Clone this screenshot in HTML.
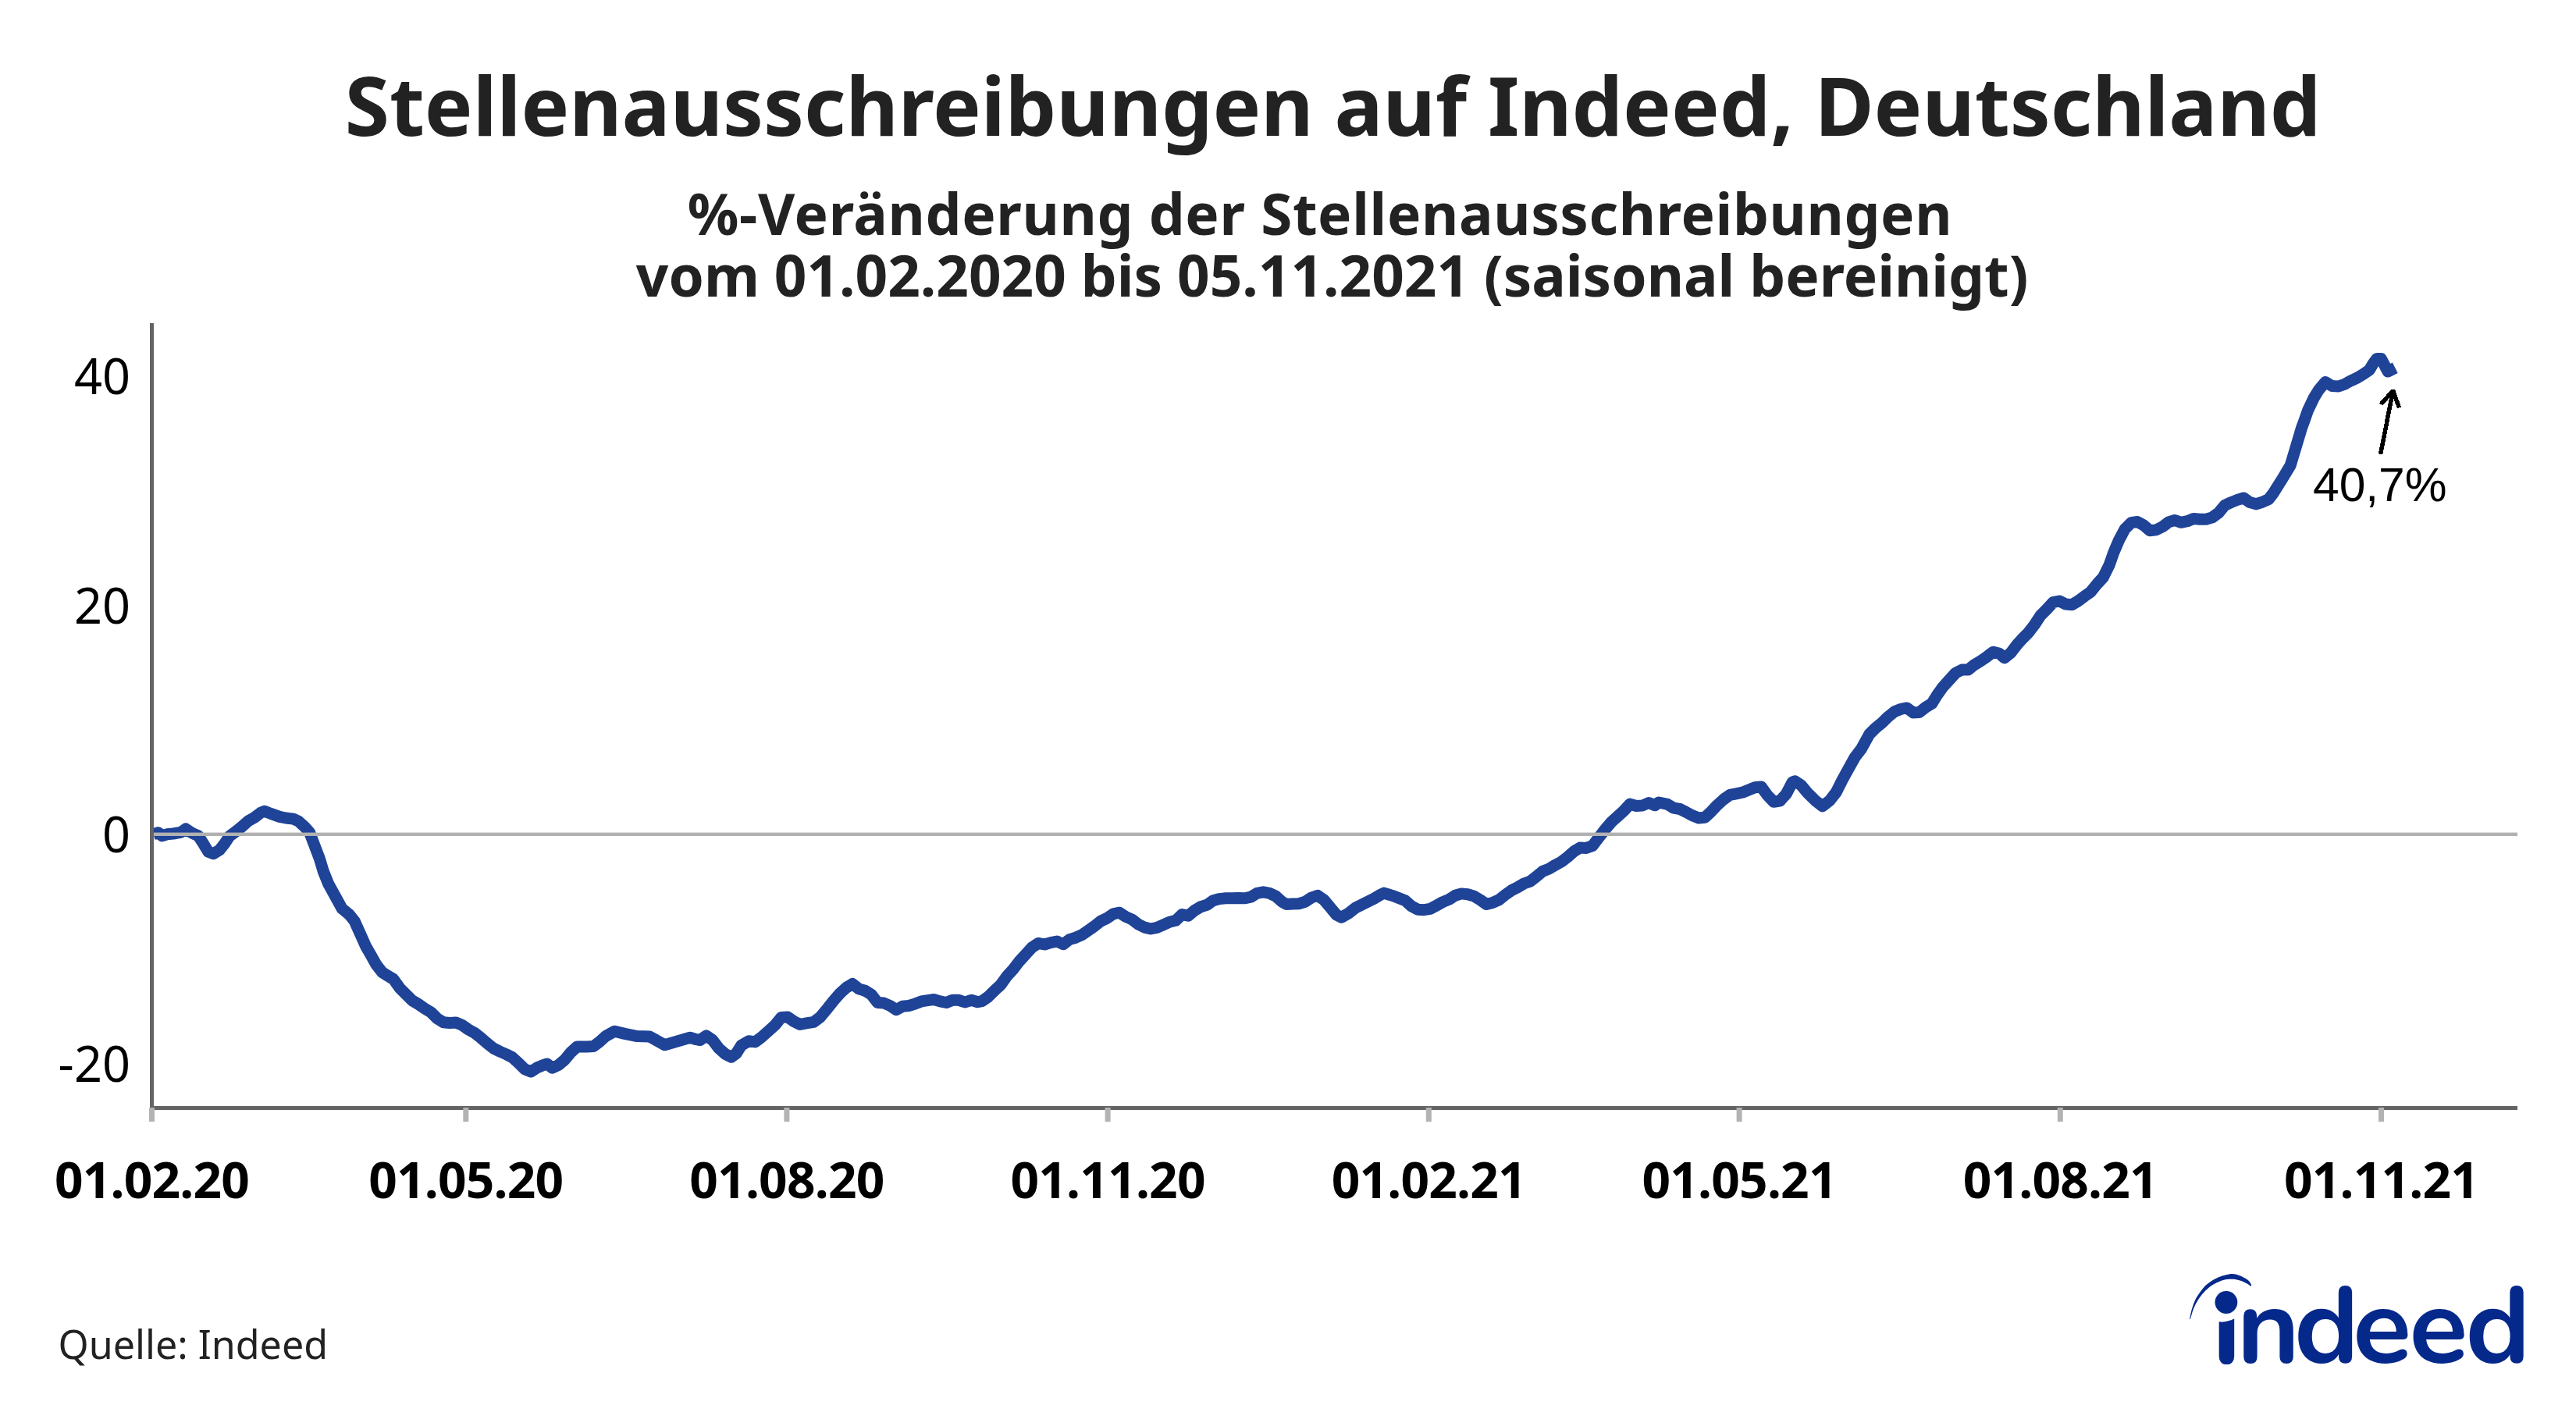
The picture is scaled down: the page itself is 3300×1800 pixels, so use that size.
<!DOCTYPE html>
<html lang="de"><head><meta charset="utf-8"><title>Stellenausschreibungen auf Indeed, Deutschland</title>
<style>
html,body{margin:0;padding:0;background:#fff;}
body{width:3300px;height:1800px;overflow:hidden;position:relative;}
svg{position:absolute;left:0;top:0;display:block;}
.t{font-family:'Noto Sans', 'Liberation Sans', Arial, sans-serif;}
</style></head>
<body>
<svg width="3300" height="1800" viewBox="0 0 3300 1800">
<rect width="3300" height="1800" fill="#fff"/>
<g class="t" fill="#222222" font-weight="700">
<text x="1707.5" y="174" text-anchor="middle" font-size="103.6" textLength="2531.4" lengthAdjust="spacingAndGlyphs">Stellenausschreibungen auf Indeed, Deutschland</text>
<text x="1691" y="301" text-anchor="middle" font-size="72.8" letter-spacing="0.64" textLength="1620.4" lengthAdjust="spacingAndGlyphs">%-Veränderung der Stellenausschreibungen</text>
<text x="1706.6" y="380" text-anchor="middle" font-size="72.8" textLength="1783.5" lengthAdjust="spacingAndGlyphs">vom 01.02.2020 bis 05.11.2021 (saisonal bereinigt)</text>
</g>
<!-- series -->
<polyline points="196.5,1068.5 202.8,1066.8 207.6,1070.9 214.0,1068.8 222.0,1068.0 231.6,1066.4 238.0,1062.0 246.0,1067.2 254.1,1070.9 260.5,1080.8 266.9,1091.3 273.3,1093.7 281.3,1088.9 287.7,1080.8 294.1,1071.2 302.1,1065.3 310.1,1058.9 318.1,1051.7 326.1,1047.2 334.1,1041.1 338.9,1039.2 346.9,1042.4 358.1,1046.4 366.1,1048.0 375.7,1049.1 382.2,1052.0 390.2,1059.2 396.6,1066.4 403.3,1084.1 409.4,1100.1 414.2,1116.1 420.6,1132.1 429.4,1148.1 438.2,1164.1 447.8,1172.1 454.2,1180.1 461.4,1196.1 468.6,1212.2 475.0,1223.4 482.2,1236.2 489.6,1245.7 496.0,1249.7 504.0,1254.5 512.0,1265.7 520.0,1273.7 528.0,1281.7 536.0,1286.5 544.1,1292.1 552.1,1296.9 560.1,1304.9 568.1,1309.7 576.1,1310.5 584.1,1310.0 592.1,1313.4 600.1,1319.0 608.1,1323.3 616.1,1329.7 624.1,1336.6 632.1,1343.0 640.1,1347.0 648.1,1350.5 656.1,1354.5 664.1,1361.7 672.2,1369.8 680.2,1373.0 688.2,1367.7 696.2,1364.5 701.0,1363.0 707.4,1368.2 715.4,1364.5 723.4,1357.7 731.4,1348.1 739.4,1340.9 752.2,1340.9 760.2,1340.6 768.2,1334.5 776.2,1327.3 787.4,1321.2 800.3,1324.4 816.3,1327.6 832.3,1328.1 840.3,1332.4 851.5,1338.8 864.3,1335.0 884.0,1329.3 892.0,1331.7 896.8,1332.5 904.8,1326.9 912.8,1332.5 920.8,1343.0 928.9,1350.2 936.9,1354.2 943.3,1349.4 949.7,1339.3 959.3,1333.8 967.3,1334.9 975.3,1329.0 984.9,1320.5 992.9,1313.3 1000.9,1303.4 1008.9,1302.9 1016.9,1308.5 1024.9,1312.5 1032.9,1310.9 1042.5,1309.3 1050.6,1303.2 1060.2,1291.7 1068.2,1281.6 1076.2,1272.5 1084.2,1265.3 1092.2,1260.5 1100.2,1266.9 1108.2,1269.3 1116.2,1274.1 1124.2,1284.5 1132.2,1285.0 1140.2,1288.5 1148.2,1293.6 1156.2,1289.3 1164.2,1288.5 1172.2,1286.1 1180.3,1282.9 1188.3,1281.6 1196.3,1280.5 1204.3,1282.9 1212.3,1284.5 1220.3,1281.3 1228.3,1281.3 1236.3,1284.0 1244.3,1281.3 1252.3,1283.7 1258.0,1282.6 1266.0,1277.0 1274.0,1269.0 1282.0,1261.7 1290.0,1250.5 1298.0,1241.7 1306.0,1231.3 1314.1,1222.5 1322.1,1213.7 1330.1,1208.4 1338.1,1210.0 1346.1,1207.6 1354.1,1206.0 1362.1,1209.7 1370.1,1203.6 1378.1,1201.2 1386.1,1197.7 1394.1,1192.1 1402.1,1186.5 1410.1,1180.1 1418.1,1176.4 1426.1,1170.8 1434.1,1169.2 1442.2,1174.5 1450.2,1178.0 1458.2,1184.1 1466.2,1188.1 1474.2,1190.0 1482.2,1188.4 1490.2,1184.9 1498.2,1181.2 1506.2,1179.3 1514.2,1171.6 1522.2,1173.2 1530.2,1166.5 1538.2,1161.7 1546.2,1159.3 1554.2,1153.7 1562.2,1151.6 1570.3,1150.8 1578.3,1150.8 1586.3,1150.5 1594.3,1150.8 1602.3,1149.2 1610.3,1144.4 1618.3,1142.8 1626.3,1144.4 1634.3,1148.1 1642.3,1155.3 1648.0,1158.5 1656.0,1158.0 1664.0,1157.7 1672.0,1155.3 1680.0,1150.0 1688.0,1147.3 1696.0,1152.9 1704.1,1162.5 1712.1,1172.1 1718.5,1175.3 1728.1,1169.7 1736.1,1163.3 1744.1,1159.3 1752.1,1155.3 1760.1,1151.3 1768.1,1146.5 1772.9,1144.1 1784.1,1147.6 1800.1,1153.7 1808.1,1160.9 1816.1,1165.2 1824.1,1165.7 1832.2,1164.4 1840.2,1160.1 1848.2,1155.6 1856.2,1152.4 1864.2,1147.3 1872.2,1144.9 1880.2,1145.7 1888.2,1148.1 1896.2,1152.9 1904.2,1158.5 1912.2,1156.4 1920.2,1152.9 1928.2,1146.5 1936.2,1140.8 1944.2,1136.8 1952.2,1132.0 1960.3,1129.2 1968.3,1122.8 1976.3,1116.3 1984.3,1113.1 1992.3,1108.3 2000.3,1104.0 2008.3,1097.9 2016.3,1090.7 2024.0,1086.1 2032.0,1086.4 2040.0,1083.7 2048.0,1073.3 2056.0,1062.9 2064.1,1053.3 2072.1,1046.1 2080.1,1038.9 2088.1,1030.1 2096.1,1032.5 2104.1,1032.0 2112.1,1028.5 2120.1,1031.7 2124.9,1028.0 2136.1,1030.4 2144.1,1035.2 2152.1,1036.5 2160.1,1040.5 2168.1,1044.8 2176.1,1048.0 2184.1,1047.2 2192.2,1039.7 2200.2,1031.2 2208.2,1024.0 2216.2,1018.4 2224.2,1016.8 2232.2,1015.2 2240.2,1012.0 2248.2,1008.8 2256.2,1008.0 2264.2,1018.9 2272.2,1027.2 2280.2,1026.1 2288.2,1017.3 2296.2,1002.0 2299.4,1000.8 2307.4,1006.0 2315.5,1015.7 2325.1,1025.3 2334.7,1032.8 2344.3,1025.3 2352.3,1014.9 2360.3,998.8 2368.3,984.4 2376.3,970.0 2384.3,959.6 2394.8,940.6 2402.8,932.6 2410.8,926.2 2418.9,918.2 2426.9,911.7 2434.9,908.5 2442.9,906.9 2450.9,912.9 2458.9,912.5 2466.9,906.1 2474.9,901.3 2481.3,890.9 2489.3,879.7 2497.3,870.9 2505.3,862.1 2513.3,858.1 2521.3,858.1 2529.3,851.7 2537.3,846.9 2545.4,841.3 2553.4,835.2 2561.4,837.3 2567.8,842.9 2575.8,836.5 2583.8,826.1 2590.2,818.9 2598.2,810.9 2606.2,800.5 2614.2,788.4 2622.2,780.4 2630.2,771.6 2638.2,770.0 2646.2,774.0 2654.2,774.8 2662.2,770.0 2670.3,763.9 2678.3,758.3 2686.3,748.4 2694.3,739.6 2702.0,724.2 2707.6,708.2 2714.4,692.2 2722.1,677.7 2730.1,669.7 2738.1,668.5 2746.1,672.9 2754.1,679.7 2762.1,678.9 2770.1,674.9 2778.1,668.9 2786.1,666.5 2794.1,669.3 2802.1,667.7 2810.1,664.5 2818.1,665.3 2826.1,665.3 2834.1,662.9 2842.2,656.9 2850.2,647.3 2858.2,643.6 2866.2,640.4 2874.2,638.0 2882.2,643.6 2890.2,645.7 2898.2,643.3 2906.2,639.6 2912.6,631.3 2924.6,612.1 2934.2,596.1 2939.0,580.1 2943.8,564.1 2948.6,548.0 2951.0,541.6 2956.6,525.7 2964.2,509.7 2970.1,500.1 2978.9,489.4 2987.7,494.6 2995.7,495.0 3003.6,492.2 3011.6,487.8 3019.6,484.2 3027.5,479.4 3035.5,473.8 3040.3,465.5 3045.0,459.4 3050.3,459.4 3059.0,476.0 3068.3,471.3" fill="none" stroke="#1f4397" stroke-width="15" stroke-linejoin="round" stroke-linecap="butt"/>
<!-- zero line -->
<rect x="197" y="1066.6" width="3028" height="4.4" fill="#b1b1b1"/>
<!-- axes -->
<rect x="192" y="414" width="5" height="1008" fill="#646464"/>
<rect x="192" y="1417" width="3033" height="5" fill="#646464"/>
<rect x="191.0" y="1419" width="7" height="18" fill="#b3b3b3"/><rect x="593.3" y="1419" width="7" height="18" fill="#b3b3b3"/><rect x="1004.4" y="1419" width="7" height="18" fill="#b3b3b3"/><rect x="1415.6" y="1419" width="7" height="18" fill="#b3b3b3"/><rect x="1826.8" y="1419" width="7" height="18" fill="#b3b3b3"/><rect x="2224.6" y="1419" width="7" height="18" fill="#b3b3b3"/><rect x="2635.8" y="1419" width="7" height="18" fill="#b3b3b3"/><rect x="3047.0" y="1419" width="7" height="18" fill="#b3b3b3"/>
<!-- y labels -->
<g class="t" fill="#000" font-size="63" text-anchor="end">
<text x="167" y="505" textLength="72.1" lengthAdjust="spacingAndGlyphs">40</text>
<text x="167" y="799" textLength="72.1" lengthAdjust="spacingAndGlyphs">20</text>
<text x="167" y="1092" textLength="36.0" lengthAdjust="spacingAndGlyphs">0</text>
<text x="167" y="1386" textLength="92.4" lengthAdjust="spacingAndGlyphs">-20</text>
</g>
<!-- x labels -->
<g class="t" fill="#000" font-size="64" font-weight="700" letter-spacing="-0.8">
<text x="194.5" y="1535" text-anchor="middle" textLength="249.2" lengthAdjust="spacingAndGlyphs">01.02.20</text><text x="596.8" y="1535" text-anchor="middle" textLength="249.2" lengthAdjust="spacingAndGlyphs">01.05.20</text><text x="1007.9" y="1535" text-anchor="middle" textLength="249.2" lengthAdjust="spacingAndGlyphs">01.08.20</text><text x="1419.1" y="1535" text-anchor="middle" textLength="249.2" lengthAdjust="spacingAndGlyphs">01.11.20</text><text x="1830.3" y="1535" text-anchor="middle" textLength="249.2" lengthAdjust="spacingAndGlyphs">01.02.21</text><text x="2228.1" y="1535" text-anchor="middle" textLength="249.2" lengthAdjust="spacingAndGlyphs">01.05.21</text><text x="2639.3" y="1535" text-anchor="middle" textLength="249.2" lengthAdjust="spacingAndGlyphs">01.08.21</text><text x="3050.5" y="1535" text-anchor="middle" textLength="249.2" lengthAdjust="spacingAndGlyphs">01.11.21</text>
</g>
<!-- annotation -->
<g stroke="#000" stroke-width="5.5" fill="none" stroke-linecap="butt" shape-rendering="crispEdges">
<line x1="3049.6" y1="581.8" x2="3065.6" y2="500.5"/>
<polyline points="3050,518 3065.6,500.5 3073.5,522.3" stroke-linejoin="bevel"/>
</g>
<text x="2963" y="641.5" font-family="'Liberation Sans', Arial, sans-serif" font-size="60.5" fill="#000">40,7%</text>
<!-- source -->
<text class="t" x="74.5" y="1741" font-size="50.2" fill="#222222" textLength="345.6" lengthAdjust="spacingAndGlyphs">Quelle: Indeed</text>
<!-- logo -->
<defs><clipPath id="ci"><path d="M2800 1800 L2800 1693.3 L2842 1693.3 C2849 1694.6 2856 1692.2 2868 1687.5 L2868 1600 L3300 1600 L3300 1800 Z"/></clipPath></defs>
<g fill="#05298b">
<path d="M2805.10 1689.90 C2805.40 1688.40 2805.98 1684.33 2806.90 1680.90 C2807.82 1677.47 2809.20 1672.77 2810.60 1669.30 C2812.00 1665.83 2813.22 1663.42 2815.30 1660.10 C2817.38 1656.78 2820.25 1652.48 2823.10 1649.40 C2825.95 1646.32 2829.32 1643.75 2832.40 1641.60 C2835.48 1639.45 2838.52 1637.85 2841.60 1636.50 C2844.68 1635.15 2847.83 1634.23 2850.90 1633.50 C2853.97 1632.77 2857.20 1632.05 2860.00 1632.10 C2862.80 1632.15 2864.97 1632.85 2867.70 1633.80 C2870.43 1634.75 2874.07 1636.43 2876.40 1637.80 C2878.73 1639.17 2880.40 1640.53 2881.70 1642.00 C2883.00 1643.47 2883.78 1645.83 2884.20 1646.60 L2883.60 1647.90 C2882.70 1647.30 2880.27 1645.45 2878.20 1644.30 C2876.13 1643.15 2873.53 1641.83 2871.20 1641.00 C2868.87 1640.17 2866.07 1639.68 2864.20 1639.30 C2862.33 1638.92 2862.22 1638.70 2860.00 1638.70 C2857.78 1638.70 2853.97 1638.67 2850.90 1639.30 C2847.83 1639.93 2844.68 1641.12 2841.60 1642.50 C2838.52 1643.88 2835.48 1645.37 2832.40 1647.60 C2829.32 1649.83 2825.80 1653.05 2823.10 1655.90 C2820.40 1658.75 2818.35 1661.30 2816.20 1664.70 C2814.05 1668.10 2811.90 1672.10 2810.20 1676.30 C2808.50 1680.50 2806.70 1687.63 2806.00 1689.90 Z"/>
<text clip-path="url(#ci)" x="2834.8 2865.2 2938.9 3014.1 3086.3 3158.5" y="1746" font-family="'Nunito', 'Liberation Sans', sans-serif" font-weight="700" font-size="138.6"><tspan stroke="#05298b" stroke-width="2.2">i</tspan>ndeed</text>
<circle cx="2851.9" cy="1668.5" r="14.4"/>
</g>
</svg>
</body></html>
